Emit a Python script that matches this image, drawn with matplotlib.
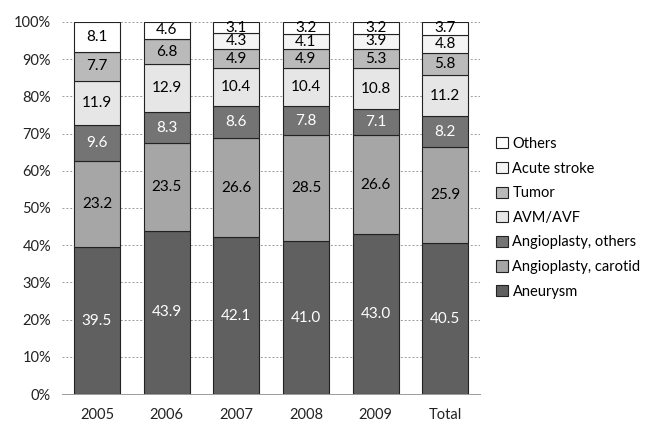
import numpy as np
import matplotlib
matplotlib.use("Agg")
import matplotlib.pyplot as plt
from matplotlib.ticker import FuncFormatter

plt.rcParams['font.family'] = ['Lato', 'DejaVu Sans']

# --- data (percent of procedures per year) ---
years = ["2005", "2006", "2007", "2008", "2009", "Total"]
aneurysm = [39.5, 43.9, 42.1, 41.0, 43.0, 40.5]
angio_carotid = [23.2, 23.5, 26.6, 28.5, 26.6, 25.9]
angio_others = [9.6, 8.3, 8.6, 7.8, 7.1, 8.2]
avm_avf = [11.9, 12.9, 10.4, 10.4, 10.8, 11.2]
tumor = [7.7, 6.8, 4.9, 4.9, 5.3, 5.8]
acute_stroke = [0.0, 0.0, 4.3, 4.1, 3.9, 4.8]
others = [8.1, 4.6, 3.1, 3.2, 3.2, 3.7]

series = [
    ("Aneurysm", aneurysm, "#606060", "white"),
    ("Angioplasty, carotid", angio_carotid, "#a6a6a6", "black"),
    ("Angioplasty, others", angio_others, "#747474", "white"),
    ("AVM/AVF", avm_avf, "#e6e6e6", "black"),
    ("Tumor", tumor, "#bababa", "black"),
    ("Acute stroke", acute_stroke, "#f4f4f4", "black"),
    ("Others", others, "#ffffff", "black"),
]

fig = plt.figure(figsize=(6.47, 4.21), dpi=100)
ax = fig.add_axes([0.096, 0.064, 0.646, 0.884])

x = np.arange(len(years))
bottom = np.zeros(len(years))
handles = []
for name, vals, color, tcol in series:
    vals = np.array(vals)
    bars = ax.bar(x, vals, 0.66, bottom=bottom, color=color,
                  edgecolor="#222222", linewidth=0.8, label=name, zorder=3)
    handles.append(bars)
    for xi, b, v in zip(x, bottom, vals):
        if v > 0:
            ax.text(xi, b + v / 2, f"{v:.1f}", ha="center", va="center",
                    fontsize=11, color=tcol, zorder=4)
    bottom += vals

ax.set_xlim(-0.5, len(years) - 0.5)
ax.set_ylim(0, 100)
ax.set_yticks(np.arange(0, 101, 10))
ax.yaxis.set_major_formatter(FuncFormatter(lambda v, p: f"{v:.0f}%"))
ax.set_xticks(x)
ax.set_xticklabels(years)
ax.tick_params(axis="both", length=0, labelsize=10.5, colors="#222222")
ax.tick_params(axis="x", pad=10)
ax.tick_params(axis="y", pad=8)

ax.grid(axis="y", color="#9a9a9a", linestyle=(0, (2, 2)), linewidth=0.7, zorder=0)
for side in ["top", "right", "left"]:
    ax.spines[side].set_visible(False)
ax.spines["bottom"].set_color("#9a9a9a")
ax.spines["bottom"].set_linewidth(0.7)

leg = fig.legend(handles[::-1], [s[0] for s in series][::-1],
                 loc="upper left", bbox_to_anchor=(0.747, 0.706),
                 frameon=False, fontsize=10.5, handlelength=0.8,
                 handleheight=0.8, handletextpad=0.3, labelspacing=0.73)

fig.savefig("out.png", dpi=100)
